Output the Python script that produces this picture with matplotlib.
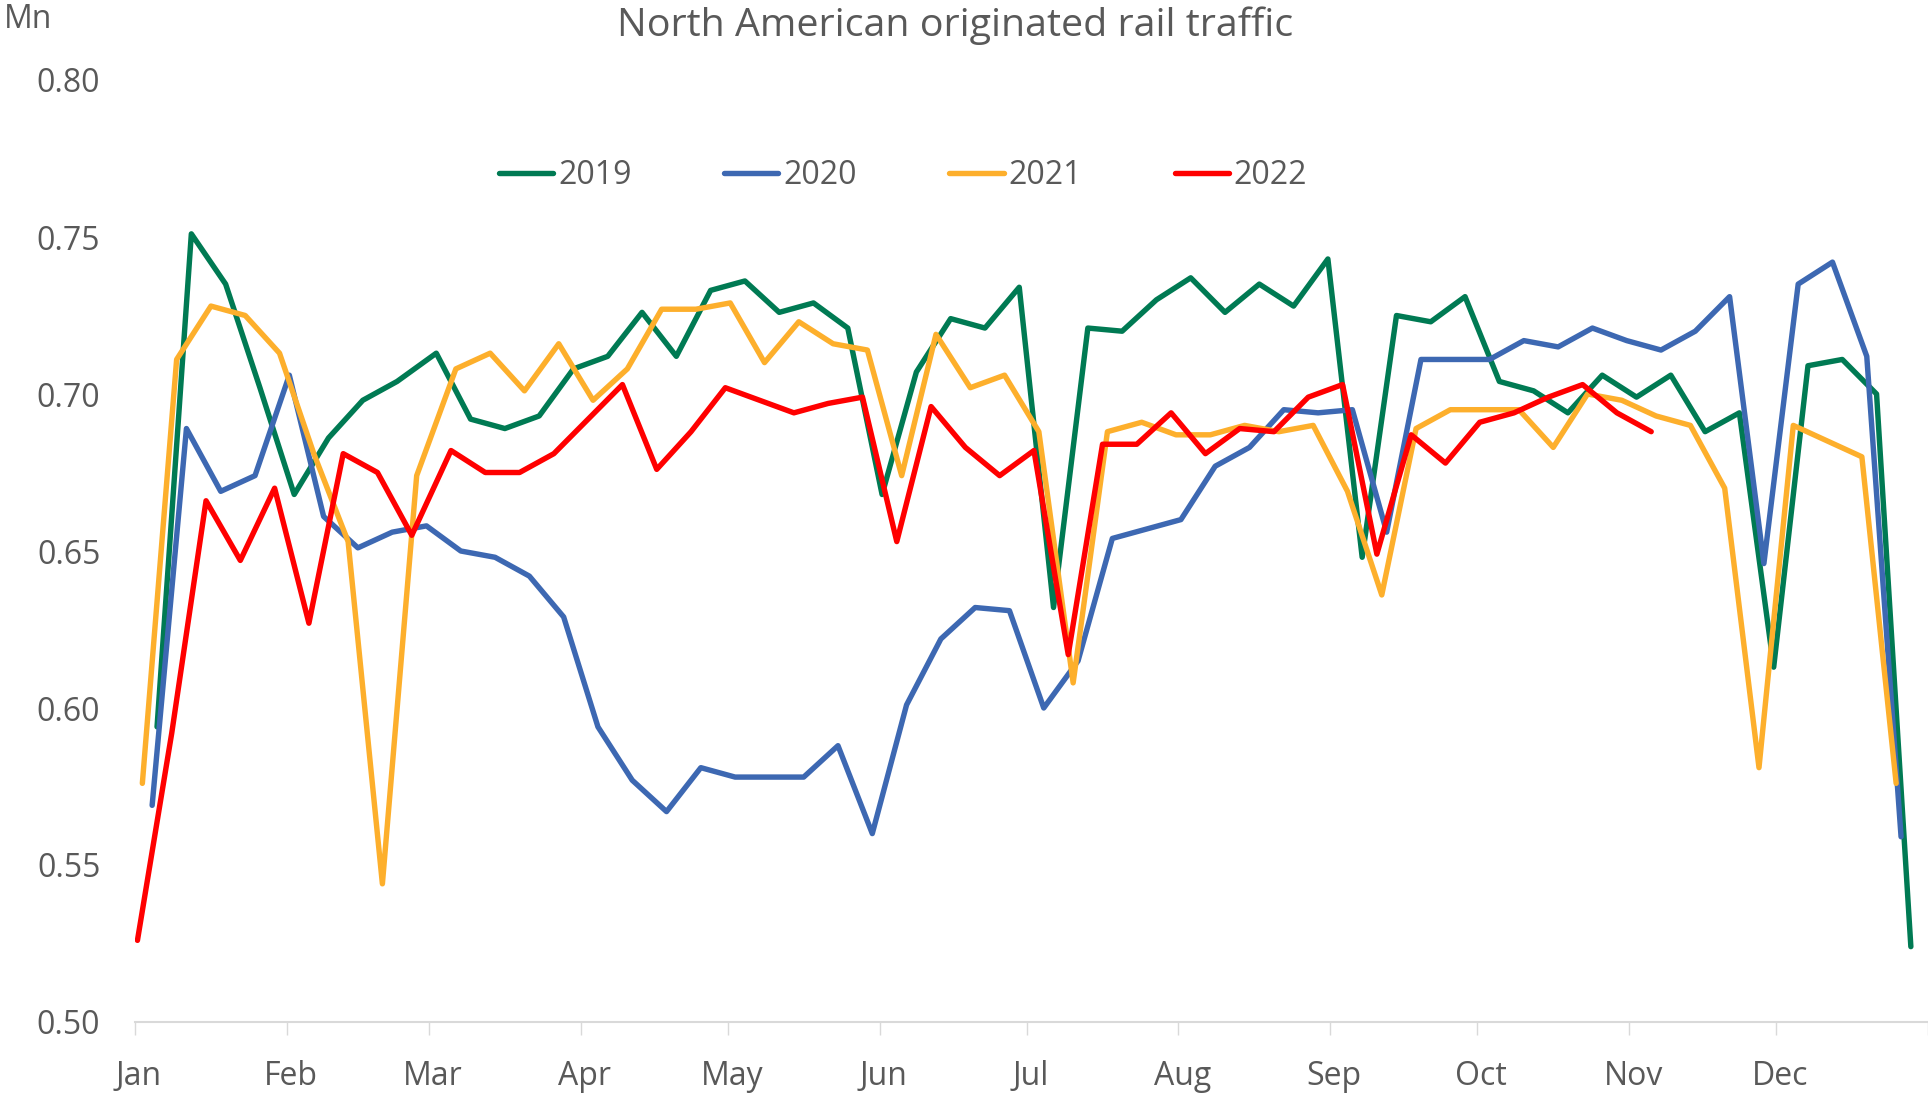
import matplotlib
matplotlib.use("Agg")
import matplotlib.pyplot as plt
import matplotlib.transforms as mtransforms
import pandas as pd

# ---- data ----
years = ["2019", "2020", "2021", "2022"]
first_week = ["2019-01-05", "2020-01-04", "2021-01-02", "2022-01-01"]  # weekly (Saturday) data

y2019 = [0.594, 0.751, 0.735, 0.702, 0.668, 0.686, 0.698, 0.704, 0.713, 0.692, 0.689, 0.693, 0.708,
         0.712, 0.726, 0.712, 0.733, 0.736, 0.726, 0.729, 0.721, 0.668, 0.707, 0.724, 0.721, 0.734,
         0.632, 0.721, 0.720, 0.730, 0.737, 0.726, 0.735, 0.728, 0.743, 0.648, 0.725, 0.723, 0.731,
         0.704, 0.701, 0.694, 0.706, 0.699, 0.706, 0.688, 0.694, 0.613, 0.709, 0.711, 0.700, 0.524]
y2020 = [0.569, 0.689, 0.669, 0.674, 0.706, 0.661, 0.651, 0.656, 0.658, 0.650, 0.648, 0.642, 0.629,
         0.594, 0.577, 0.567, 0.581, 0.578, 0.578, 0.578, 0.588, 0.560, 0.601, 0.622, 0.632, 0.631,
         0.600, 0.615, 0.654, 0.657, 0.660, 0.677, 0.683, 0.695, 0.694, 0.695, 0.656, 0.711, 0.711,
         0.711, 0.717, 0.715, 0.721, 0.717, 0.714, 0.720, 0.731, 0.646, 0.735, 0.742, 0.712, 0.559]
y2021 = [0.576, 0.711, 0.728, 0.725, 0.713, 0.681, 0.653, 0.544, 0.674, 0.708, 0.713, 0.701, 0.716,
         0.698, 0.708, 0.727, 0.727, 0.729, 0.710, 0.723, 0.716, 0.714, 0.674, 0.719, 0.702, 0.706,
         0.688, 0.608, 0.688, 0.691, 0.687, 0.687, 0.690, 0.688, 0.690, 0.669, 0.636, 0.689, 0.695,
         0.695, 0.695, 0.683, 0.700, 0.698, 0.693, 0.690, 0.670, 0.581, 0.690, 0.685, 0.680, 0.576]
y2022 = [0.526, 0.592, 0.666, 0.647, 0.670, 0.627, 0.681, 0.675, 0.655, 0.682, 0.675, 0.675, 0.681,
         0.692, 0.703, 0.676, 0.688, 0.702, 0.698, 0.694, 0.697, 0.699, 0.653, 0.696, 0.683, 0.674,
         0.682, 0.617, 0.684, 0.684, 0.694, 0.681, 0.689, 0.688, 0.699, 0.703, 0.649, 0.687, 0.678,
         0.691, 0.694, 0.699, 0.703, 0.694, 0.688]
series = [y2019, y2020, y2021, y2022]
colors = ["#007A53", "#3D68B2", "#FDAF2C", "#FF0000"]

month_labels = ["Jan", "Feb", "Mar", "Apr", "May", "Jun", "Jul", "Aug", "Sep", "Oct", "Nov", "Dec", ""]
y_ticks = [0.50, 0.55, 0.60, 0.65, 0.70, 0.75, 0.80]

# ---- figure ----
FONT = ["Open Sans", "DejaVu Sans"]
plt.rcParams["font.family"] = FONT
TXT = "#595959"

fig = plt.figure(figsize=(19.28, 10.94), dpi=100)
ax = fig.add_axes([135 / 1928, 1 - 1022 / 1094, 1 - 135 / 1928, 942 / 1094])

ref_year = 2000  # leap reference year so every month/day maps onto one common axis
for name, start, vals, col in zip(years, first_week, series, colors):
    d = pd.date_range(start, periods=len(vals), freq="7D")
    x = [pd.Timestamp(ref_year, t.month, t.day) + pd.Timedelta(hours=12) for t in d]
    ax.plot(x, vals, color=col, lw=3.9, label=name,
            solid_capstyle="round", solid_joinstyle="round")

month_ticks = pd.date_range(f"{ref_year}-01-01", periods=13, freq="MS")
ax.set_xlim(month_ticks[0], month_ticks[-1])
ax.set_xticks(month_ticks)
ax.set_xticklabels(month_labels)
ax.set_ylim(0.50, 0.80)
ax.set_yticks(y_ticks)
ax.set_yticklabels([f"{v:.2f}" for v in y_ticks])

for s in ["left", "right", "top"]:
    ax.spines[s].set_visible(False)
ax.spines["bottom"].set_color("#D9D9D9")
ax.spines["bottom"].set_linewidth(1.5)
ax.tick_params(axis="x", colors="#D9D9D9", length=9.5, width=1.0, labelcolor=TXT,
               labelsize=23, pad=18)
ax.tick_params(axis="y", length=0, labelcolor=TXT, labelsize=23, pad=25)

shift = mtransforms.ScaledTranslation(4 / 100, 0, fig.dpi_scale_trans)
for lab in ax.get_xticklabels():
    lab.set_transform(lab.get_transform() + shift)

fig.text(955 / 1928, 1 - 26 / 1094, "North American originated rail traffic",
         ha="center", va="center", fontsize=28.4, color=TXT)
fig.text(4 / 1928, 1 - 19 / 1094, "Mn", ha="left", va="center", fontsize=23, color=TXT)

leg = ax.legend(loc="center", bbox_to_anchor=(903 / 1928, 1 - 176 / 1094),
                bbox_transform=fig.transFigure, ncol=4, frameon=False,
                fontsize=23, handlelength=1.7, handletextpad=0.15, columnspacing=2.9,
                labelcolor=TXT)

fig.savefig("out.png", dpi=100, facecolor="white")
